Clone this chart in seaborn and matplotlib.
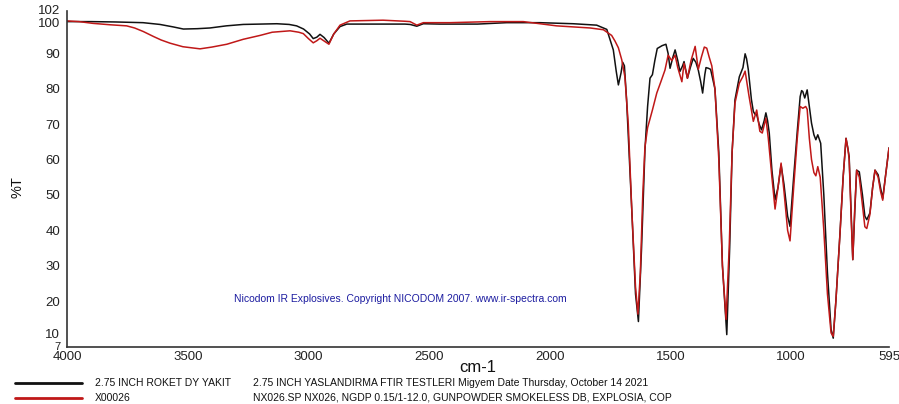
import matplotlib
matplotlib.use("Agg")
import matplotlib.pyplot as plt
import matplotlib.transforms as mtransforms
import seaborn as sns
import pandas as pd
from matplotlib.lines import Line2D

sns.set_style("white")
plt.rcParams['font.family'] = ['Liberation Sans', 'DejaVu Sans']

# Sample 1: 2.75 INCH ROKET DY YAKIT (black)
black_wn = [4000, 3900, 3800, 3685, 3615, 3560, 3518, 3460, 3408, 3340, 3270, 3200, 3131, 3080,
            3049, 3020, 2995, 2980, 2965, 2952, 2935, 2915, 2895, 2869, 2841, 2700, 2600, 2579,
            2551, 2524, 2455, 2300, 2179, 2041, 1903, 1806, 1764, 1737, 1725, 1716, 1705, 1698,
            1691, 1682, 1660, 1645, 1633, 1620, 1606, 1595, 1585, 1575, 1565, 1555, 1535, 1519,
            1510, 1502, 1490, 1481, 1470, 1461, 1450, 1444, 1430, 1418, 1406, 1395, 1385, 1375,
            1367, 1358, 1353, 1343, 1334, 1316, 1300, 1285, 1267, 1255, 1245, 1233, 1215, 1200,
            1191, 1185, 1178, 1165, 1157, 1150, 1143, 1133, 1123, 1112, 1105, 1098, 1091, 1080,
            1067, 1055, 1042, 1030, 1015, 1005, 990, 975, 963, 957, 952, 944, 934, 925, 916, 906,
            898, 890, 878, 865, 850, 835, 826, 815, 798, 785, 773, 765, 760, 752, 745, 737, 729,
            718, 705, 695, 687, 674, 663, 653, 640, 630, 621, 610, 595]
black_t = [99.0, 99.0, 98.9, 98.7, 98.2, 97.5, 96.9, 97.0, 97.2, 97.8, 98.2, 98.3, 98.4, 98.2,
           97.8, 96.9, 95.5, 94.2, 94.6, 95.4, 94.5, 92.9, 95.5, 97.6, 98.3, 98.3, 98.3, 98.2,
           97.7, 98.4, 98.3, 98.3, 98.7, 98.7, 98.4, 98.0, 96.8, 91.0, 85.0, 81.1, 84.5, 87.5,
           86.5, 76.9, 45.0, 22.0, 14.2, 35.0, 62.7, 75.0, 83.0, 84.0, 88.0, 91.4, 92.2, 92.6,
           90.0, 85.8, 89.0, 91.0, 88.0, 84.9, 86.5, 87.7, 83.0, 86.0, 88.6, 87.5, 85.3, 82.0,
           78.8, 84.0, 86.0, 85.8, 85.5, 80.0, 62.0, 30.0, 10.5, 35.0, 62.0, 76.9, 83.4, 86.0,
           89.9, 88.5, 85.5, 77.0, 73.6, 72.8, 72.7, 70.0, 68.4, 71.0, 73.2, 71.0, 67.5, 57.0,
           48.6, 52.0, 58.5, 53.0, 44.0, 41.1, 55.0, 68.0, 77.8, 79.5, 79.2, 77.4, 79.7, 75.0,
           70.3, 67.0, 65.6, 67.0, 64.6, 50.0, 28.0, 12.0, 9.5, 20.0, 39.2, 55.0, 66.0, 63.0,
           60.8, 45.0, 31.7, 45.0, 57.0, 56.5, 50.0, 44.0, 43.0, 44.9, 52.0, 57.0, 55.7, 52.0,
           49.0, 55.0, 63.3]

# Sample 2: X00026 (red)
red_wn = [4000, 3950, 3892, 3820, 3753, 3720, 3684, 3642, 3610, 3573, 3520, 3449, 3400, 3338,
          3270, 3200, 3150, 3076, 3040, 3021, 3000, 2980, 2965, 2952, 2935, 2915, 2895, 2869,
          2828, 2691, 2600, 2579, 2551, 2524, 2413, 2248, 2110, 1972, 1833, 1778, 1744, 1730,
          1716, 1702, 1689, 1675, 1660, 1645, 1635, 1625, 1615, 1606, 1595, 1575, 1557, 1540,
          1523, 1510, 1495, 1481, 1470, 1453, 1444, 1430, 1415, 1398, 1385, 1372, 1360, 1350,
          1340, 1329, 1316, 1300, 1285, 1270, 1257, 1245, 1233, 1215, 1200, 1191, 1175, 1157,
          1143, 1130, 1120, 1105, 1095, 1080, 1067, 1055, 1042, 1030, 1015, 1005, 990, 975, 963,
          952, 940, 934, 925, 916, 906, 898, 890, 880, 865, 850, 835, 826, 815, 798, 785, 773,
          765, 760, 752, 745, 737, 729, 718, 705, 695, 687, 674, 663, 653, 640, 630, 621, 610, 595]
red_t = [99.2, 99.0, 98.5, 98.1, 97.8, 97.2, 96.2, 94.8, 93.8, 92.9, 91.9, 91.3, 91.8, 92.6,
         94.0, 95.1, 96.0, 96.4, 96.0, 95.6, 94.2, 93.0, 93.6, 94.3, 93.5, 92.6, 95.5, 98.0,
         99.2, 99.4, 99.1, 99.0, 98.0, 98.7, 98.7, 99.0, 99.0, 97.8, 97.2, 96.7, 95.1, 93.5,
         91.6, 88.2, 83.4, 70.0, 45.0, 24.0, 16.3, 28.0, 50.0, 63.5, 69.0, 74.0, 78.8, 82.0,
         85.3, 89.5, 88.0, 89.5, 86.0, 82.0, 87.2, 83.0, 88.0, 92.0, 85.5, 89.0, 91.8, 91.5,
         89.0, 86.5, 80.0, 60.0, 30.0, 14.8, 35.0, 62.0, 76.0, 81.6, 83.5, 85.0, 78.0, 70.8,
         74.0, 68.0, 67.5, 71.7, 66.0, 55.0, 46.0, 52.0, 59.0, 51.0, 40.0, 37.0, 52.0, 66.0, 75.0,
         74.5, 75.0, 74.2, 66.0, 60.0, 56.3, 55.4, 58.0, 55.0, 40.0, 22.0, 11.0, 10.0, 20.0, 39.0,
         55.0, 66.0, 63.0, 60.0, 44.0, 31.7, 46.0, 57.0, 55.0, 47.0, 41.0, 40.5, 44.5, 52.0,
         57.0, 55.0, 51.0, 48.5, 55.0, 63.3]

x_ticks = [4000, 3500, 3000, 2500, 2000, 1500, 1000, 595]
y_ticks = [7, 10, 20, 30, 40, 50, 60, 70, 80, 90, 100, 102]

names = ["2.75 INCH ROKET DY YAKIT", "X00026"]
descriptions = ["2.75 INCH YASLANDIRMA FTIR TESTLERI Migyem Date Thursday, October 14 2021",
                "NX026.SP NX026, NGDP 0.15/1-12.0, GUNPOWDER SMOKELESS DB, EXPLOSIA, COP"]
colors = ["#111111", "#c01818"]

df = pd.concat([
    pd.DataFrame({"wn": black_wn, "T": black_t, "s": names[0]}),
    pd.DataFrame({"wn": red_wn, "T": red_t, "s": names[1]}),
])

fig = plt.figure(figsize=(8.99, 4.04), dpi=100)
ax = fig.add_axes([67/899, 1-347/404, (889-67)/899, (347-11)/404])

sns.lineplot(data=df, x="wn", y="T", hue="s", palette=colors, hue_order=names,
             linewidth=1.1, legend=False, ax=ax, estimator=None)

ax.set_xlim(4000, 595)
ax.set_ylim(7, 102)
ax.set_xticks(x_ticks)
ax.set_xticklabels([str(t) for t in x_ticks])
ax.set_yticks(y_ticks)
ax.set_yticklabels([str(t) for t in y_ticks])
for s in ["top", "right"]:
    ax.spines[s].set_visible(False)
for s in ["left", "bottom"]:
    ax.spines[s].set_color("#333333")
    ax.spines[s].set_linewidth(1.2)
ax.tick_params(axis="x", direction="in", length=4, width=1, labelsize=9.5, pad=3, colors="#222222")
ax.tick_params(axis="y", direction="out", length=4, width=1, labelsize=9.5, pad=1, colors="#222222")
ax.set_xlabel("")
ax.set_ylabel("")

# nudge crowded y tick labels like the reference
offsets = {"7": 1, "10": 3, "100": -4, "102": 1}
for lab in ax.get_yticklabels():
    txt = lab.get_text()
    if txt == "7":
        lab.set_fontsize(8)
    dy = offsets.get(txt, 0)
    if dy:
        lab.set_transform(lab.get_transform() +
                          mtransforms.ScaledTranslation(0, dy / 100, fig.dpi_scale_trans))

fig.text(18/899, 1-187/404, "%T", rotation=90, ha="center", va="center", fontsize=10.5, color="#111111")
fig.text(478/899, 1-368/404, "cm-1", ha="center", va="center", fontsize=12, color="#111111")

ax.text(0.405, 0.143, "Nicodom IR Explosives. Copyright NICODOM 2007. www.ir-spectra.com",
        transform=ax.transAxes, ha="center", va="center", fontsize=7.5, color="#1c1ca0")

for i, (nm, desc, c) in enumerate(zip(names, descriptions, colors)):
    yy = 1 - (383 + 15 * i) / 404
    fig.add_artist(Line2D([15/899, 82/899], [yy, yy], color=c, linewidth=2, transform=fig.transFigure))
    fig.text(95/899, yy, nm, ha="left", va="center", fontsize=7.5, color="#111111")
    fig.text(253/899, yy, desc, ha="left", va="center", fontsize=7.5, color="#111111")

fig.savefig("out.png", dpi=100)
